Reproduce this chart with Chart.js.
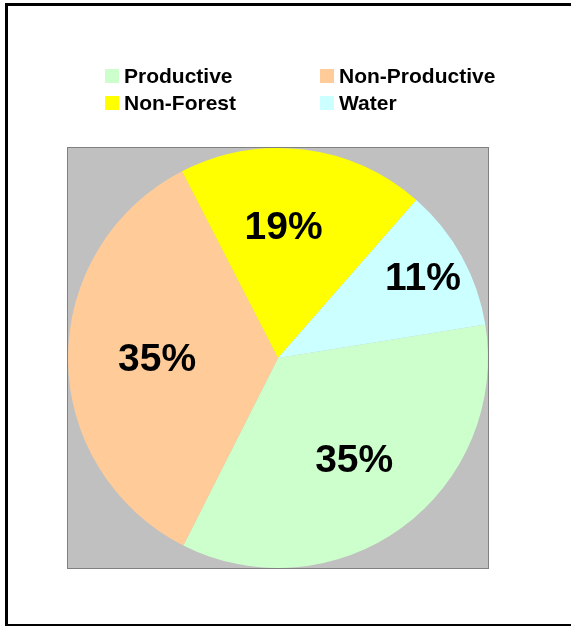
<!DOCTYPE html>
<html>
<head>
<meta charset="utf-8">
<script src="https://cdn.jsdelivr.net/npm/chart.js@4/dist/chart.umd.min.js"></script>
<style>
  html, body { margin: 0; padding: 0; background: #fff; overflow: hidden; }
  canvas { display: block; }
</style>
</head>
<body>
<canvas id="landChart" width="571" height="627"></canvas>
<script>
// land use shares (percent)
const categories = ['Productive', 'Non-Productive', 'Non-Forest', 'Water'];
const shares = [35, 35, 19, 11];
const sliceColors = ['#CCFFCC', '#FFCC99', '#FFFF00', '#CCFFFF'];

// where each percent label sits: fraction of the radius, and a small turn (degrees) off the slice middle
const labelRadius = [0.6, 0.576, 0.636, 0.793];
const labelTurn = [-1, 0.7, -4.6, -0.5];

const FONT = '"Liberation Sans", Arial, Helvetica, sans-serif';

// grey plot square, outer frame and the two-column legend
const frame = {
    id: 'frame',
    beforeDatasetsDraw(chart) {
        const { ctx, chartArea: a } = chart;
        ctx.save();
        ctx.fillStyle = '#C0C0C0';
        ctx.fillRect(a.left, a.top, a.right - a.left, a.bottom - a.top);
        ctx.strokeStyle = '#808080';
        ctx.lineWidth = 1;
        ctx.strokeRect(a.left - 0.5, a.top - 0.5, a.right - a.left + 1, a.bottom - a.top + 1);
        ctx.restore();
    },
    afterDraw(chart) {
        const ctx = chart.ctx;
        ctx.save();
        // outer box, open on the right side
        ctx.fillStyle = '#000';
        ctx.fillRect(5, 3, 566, 3);
        ctx.fillRect(5, 3, 3, 623);
        ctx.fillRect(5, 624, 566, 2);

        // legend
        const colX = [105, 320];
        const rowY = [83, 110];
        ctx.font = 'bold 21px ' + FONT;
        ctx.textBaseline = 'alphabetic';
        ctx.textAlign = 'left';
        categories.forEach((name, i) => {
            const x = colX[i % 2];
            const y = rowY[Math.floor(i / 2)];
            ctx.fillStyle = sliceColors[i];
            ctx.fillRect(x, y - 14, 14, 14);
            ctx.fillStyle = '#000';
            ctx.fillText(name, x + 19, y);
        });
        ctx.restore();
    }
};

// percent labels inside the slices
const percentLabels = {
    id: 'percentLabels',
    afterDatasetsDraw(chart) {
        const ctx = chart.ctx;
        const arcs = chart.getDatasetMeta(0).data;
        const total = shares.reduce((s, v) => s + v, 0);
        ctx.save();
        ctx.font = 'bold 39px ' + FONT;
        ctx.fillStyle = '#000';
        ctx.textAlign = 'center';
        ctx.textBaseline = 'alphabetic';
        arcs.forEach((arc, i) => {
            const p = arc.getProps(['x', 'y', 'startAngle', 'endAngle', 'outerRadius'], true);
            const mid = (p.startAngle + p.endAngle) / 2 + labelTurn[i] * Math.PI / 180;
            const r = p.outerRadius * labelRadius[i];
            const pct = Math.round(shares[i] / total * 100) + '%';
            // baseline sits half a digit height below the anchor point
            ctx.fillText(pct, p.x + Math.cos(mid) * r, p.y + Math.sin(mid) * r + 14);
        });
        ctx.restore();
    }
};

new Chart(document.getElementById('landChart'), {
    type: 'pie',
    data: {
        labels: categories,
        datasets: [{
            data: shares,
            backgroundColor: sliceColors,
            borderWidth: 0
        }]
    },
    options: {
        responsive: false,
        animation: false,
        rotation: 80.8,
        layout: { padding: { left: 68, right: 83, top: 148, bottom: 59 } },
        plugins: {
            legend: { display: false },
            tooltip: { enabled: false }
        }
    },
    plugins: [frame, percentLabels]
});
</script>
</body>
</html>
